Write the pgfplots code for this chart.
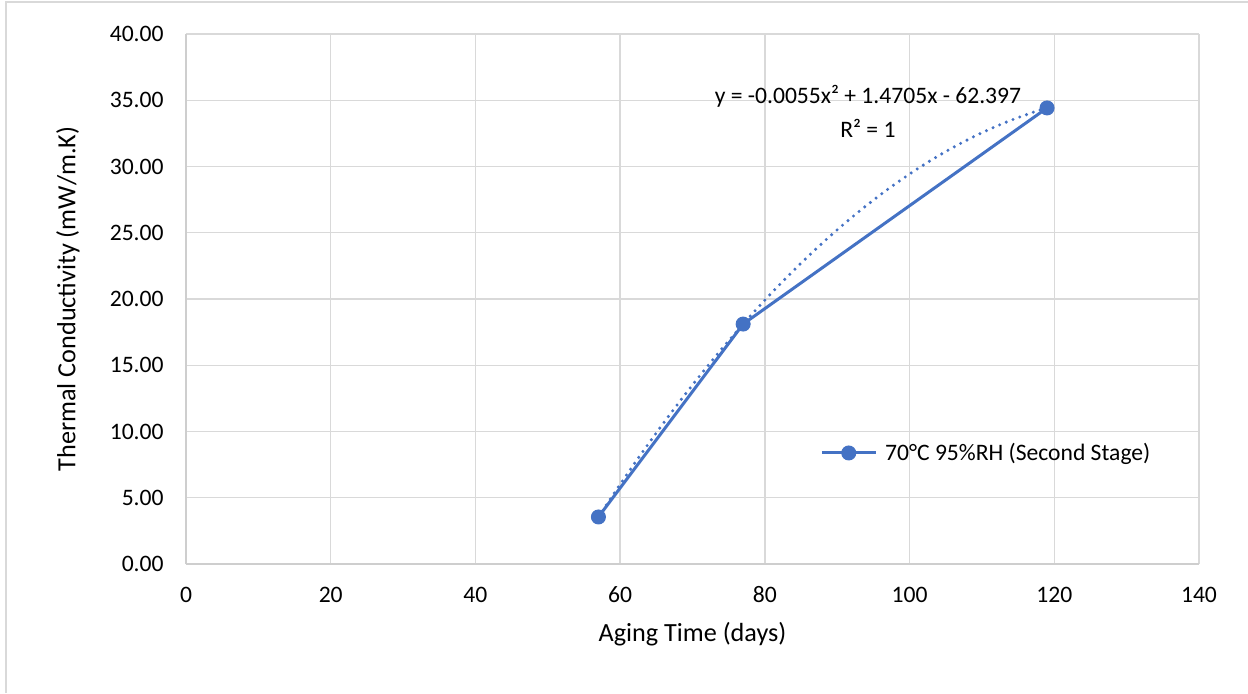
\documentclass[border=0pt]{standalone}
\usepackage{fontspec}
\setmainfont{Carlito}
\usepackage{pgfplots}
\pgfplotsset{compat=1.18}
\definecolor{xlblue}{HTML}{4472C4}
\definecolor{gridgray}{HTML}{D9D9D9}
\definecolor{framegray}{HTML}{D9D9D9}
\begin{document}
\begin{tikzpicture}
\useasboundingbox (-93pt,-64.5pt) rectangle (531pt,282pt);
\draw[framegray, line width=0.6pt] (-90pt,-64.5pt) -- (-90pt,281pt) -- (531pt,281pt);
\begin{axis}[
  at={(0,0)}, anchor=south west,
  scale only axis,
  width=506.5pt, height=265pt,
  xmin=0, xmax=140, ymin=0, ymax=40,
  xtick={0,20,...,140},
  ytick={0,5,...,40},
  grid=major,
  grid style={gridgray, line width=0.7pt},
  axis line style={gridgray!80!black!60, line width=0.7pt},
  axis x line*=bottom, axis y line*=left,
  major tick length=0pt,
  tick style={draw=none},
  /pgf/number format/assume math mode=true,
  yticklabel style={/pgf/number format/fixed, /pgf/number format/fixed zerofill, /pgf/number format/precision=2},
  ticklabel style={font=\fontsize{11.8}{14}\selectfont, text=black},
  xticklabel style={anchor=center, yshift=-15.5pt},
  yticklabel style={anchor=east, inner sep=0pt, xshift=-11pt},
  xlabel={Aging Time (days)},
  ylabel={Thermal Conductivity (mW/m.K)},
  label style={font=\fontsize{13.1}{15}\selectfont},
  xlabel style={at={(axis description cs:0.5,-0.132)}, anchor=center},
  ylabel style={at={(axis description cs:-0.1165,0.5)}, anchor=center},
  legend style={at={(axis cs:87.6,8.38)}, anchor=west, draw=none, fill=none,
    font=\fontsize{11.8}{14}\selectfont, inner sep=0pt,
    legend cell align=left},
  legend image code/.code={
    \draw[#1, mark=none] (0pt,0pt) -- (27pt,0pt);
    \draw[#1, only marks] plot coordinates {(13.5pt,0pt)};
  },
  clip=false,
]
% trendline (polynomial order 2)
\addplot[xlblue, line width=1.7pt, line cap=round, dash pattern=on 0pt off 3.6pt, forget plot, smooth]
coordinates {
(57,3.55) (61,6.813) (65,9.900) (69,12.812) (73,15.549) (77,18.11)
(81,20.496) (85,22.707) (89,24.742) (93,26.602) (97,28.287) (101,29.796)
(105,31.130) (109,32.289) (113,33.272) (117,34.08) (119,34.42)
};
\addplot[xlblue, line width=1.5pt, mark=*, mark size=3.5pt, mark options={fill=xlblue, draw=xlblue, line width=0.5pt}]
coordinates {(57,3.55) (77,18.11) (119,34.42)};
\addlegendentry{\,70°C 95\%RH (Second Stage)}
\node[font=\fontsize{11.8}{14}\selectfont, anchor=center, align=center] at (axis cs:94.25,35.3) {y = -0.0055x² + 1.4705x - 62.397};
\node[font=\fontsize{11.8}{14}\selectfont, anchor=center] at (axis cs:94.25,32.9) {R² = 1};
\end{axis}
\end{tikzpicture}
\end{document}
